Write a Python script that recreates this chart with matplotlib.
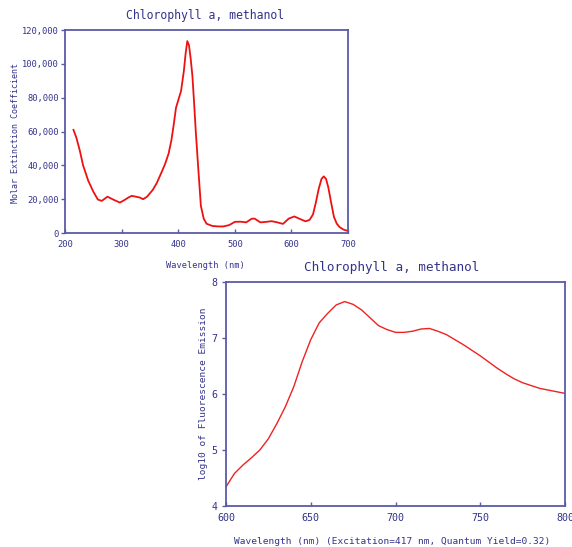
import matplotlib.pyplot as plt

# absorption spectrum (molar extinction coefficient)
abs_wl = [215, 220, 226, 232, 241, 250, 258, 265, 275, 285, 297, 305, 312, 318, 325,
          332, 338, 345, 355, 362, 370, 377, 383, 388, 392, 396, 400, 405, 410, 413,
          416, 419, 422, 425, 428, 431, 435, 440, 445, 450, 460, 470, 480, 490, 500,
          510, 520, 530, 535, 545, 555, 565, 575, 585, 595, 605, 615, 625, 632, 638,
          643, 648, 653, 657, 661, 665, 670, 675, 680, 685, 692, 700]
abs_eps = [61000, 56500, 49000, 40000, 31000, 24500, 19800, 19000, 21500, 19800, 18000, 19500, 21000, 22000, 21500,
           21000, 20000, 21500, 25500, 29500, 35500, 41000, 47000, 55000, 64000, 74000, 78500, 84000, 96000, 106000,
           113500, 111000, 103000, 93000, 77000, 60000, 40000, 16000, 8500, 5500, 4200, 3900, 3900, 4700, 6600,
           6700, 6300, 8500, 8500, 6300, 6600, 7000, 6300, 5400, 8500, 9800, 8300, 6900, 7800, 11000,
           18000, 26000, 32000, 33500, 32000, 27000, 18000, 9500, 5500, 3500, 2000, 1200]

# fluorescence emission (log10)
em_wl = [600, 605, 610, 615, 620, 625, 630, 635, 640, 645, 650, 655, 660, 665, 670,
         675, 680, 685, 690, 695, 700, 705, 710, 715, 720, 725, 730, 735, 740, 745,
         750, 755, 760, 765, 770, 775, 780, 785, 790, 795, 800]
em_log = [4.34, 4.58, 4.73, 4.86, 5.00, 5.20, 5.47, 5.77, 6.13, 6.58, 6.97, 7.27, 7.44, 7.59, 7.65,
          7.60, 7.50, 7.36, 7.22, 7.15, 7.10, 7.10, 7.12, 7.16, 7.17, 7.12, 7.06, 6.97, 6.88, 6.78,
          6.68, 6.57, 6.46, 6.36, 6.27, 6.20, 6.15, 6.10, 6.07, 6.04, 6.01]

txt = '#33338a'
frame = '#5a5aa6'
mono = 'DejaVu Sans Mono'

fig = plt.figure(figsize=(5.72, 5.47), dpi=100)

def style(ax, fs, ypad):
    for s in ax.spines.values():
        s.set_color(frame)
        s.set_linewidth(1.3)
    ax.tick_params(colors=frame, labelcolor=txt, labelsize=fs, length=3, width=1)
    ax.tick_params(axis='x', direction='in', pad=5)
    ax.tick_params(axis='y', direction='out', pad=ypad)
    for lab in ax.get_xticklabels() + ax.get_yticklabels():
        lab.set_family(mono)

# top chart
ax1 = fig.add_axes([0.1136, 0.574, 0.495, 0.371])
ax1.plot(abs_wl, abs_eps, color='#ee1111', lw=1.3)
ax1.set_xlim(200, 700)
ax1.set_ylim(0, 120000)
ax1.set_xticks([200, 300, 400, 500, 600, 700])
ax1.set_yticks(range(0, 120001, 20000))
ax1.set_yticklabels([f'{v:,}' for v in range(0, 120001, 20000)])
style(ax1, 6.3, 1.5)
fig.text(205 / 572, 1 - 16 / 547, 'Chlorophyll a, methanol', ha='center', va='center',
         family=mono, fontsize=8.3, color=txt)
fig.text(205 / 572, 1 - 266 / 547, 'Wavelength (nm)', ha='center', va='center',
         family=mono, fontsize=6.2, color=txt)
fig.text(16 / 572, 1 - 133 / 547, 'Molar Extinction Coefficient', ha='center', va='center',
         rotation=90, family=mono, fontsize=6.0, color=txt)

# bottom chart
ax2 = fig.add_axes([0.395, 0.075, 0.593, 0.4095])
ax2.plot(em_wl, em_log, color='#ee2222', lw=1.0)
ax2.set_xlim(600, 800)
ax2.set_ylim(4, 8)
ax2.set_xticks([600, 650, 700, 750, 800])
ax2.set_yticks([4, 5, 6, 7, 8])
style(ax2, 7.2, 3)
fig.text(392 / 572, 1 - 268 / 547, 'Chlorophyll a, methanol', ha='center', va='center',
         family=mono, fontsize=9.1, color=txt)
fig.text(392 / 572, 1 - 541 / 547, 'Wavelength (nm) (Excitation=417 nm, Quantum Yield=0.32)',
         ha='center', va='center', family=mono, fontsize=6.8, color=txt)
fig.text(203 / 572, 1 - 394 / 547, 'log10 of Fluorescence Emission', ha='center', va='center',
         rotation=90, family=mono, fontsize=6.8, color=txt)

fig.savefig('out.png', dpi=100)
